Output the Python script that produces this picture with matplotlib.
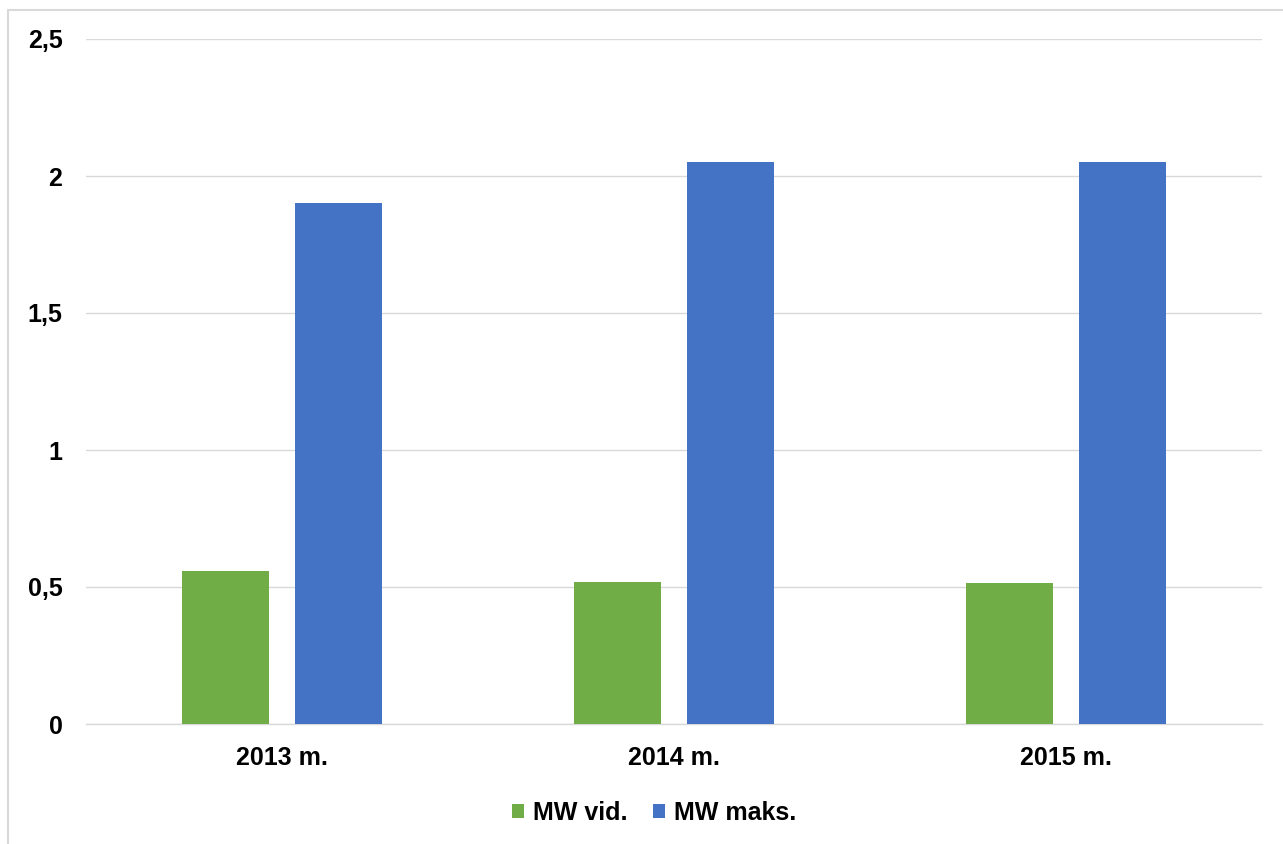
import matplotlib
matplotlib.use("Agg")
import matplotlib.pyplot as plt
import numpy as np
from matplotlib.patches import Rectangle

categories = ["2013 m.", "2014 m.", "2015 m."]
mw_vid = [0.56, 0.52, 0.515]
mw_maks = [1.9, 2.05, 2.05]
series_names = ["MW vid.", "MW maks."]
colors = ["#70AD47", "#4472C4"]
yticks = [0, 0.5, 1, 1.5, 2, 2.5]
ytick_labels = ["0", "0,5", "1", "1,5", "2", "2,5"]

plt.rcParams['font.family'] = ['Liberation Sans', 'DejaVu Sans']

W, H = 1283, 844
fig = plt.figure(figsize=(W/100, H/100), dpi=100)
fig.patches.append(Rectangle((8/W, -0.2), 1.2, 1.2 - 10/H, transform=fig.transFigure,
                             fill=False, edgecolor="#D9D9D9", linewidth=1.5))
ax = fig.add_axes([86/W, 1 - 724/H, (1262-86)/W, (724-39)/H])

x = np.arange(len(categories))
width = 0.222
off = 0.143
ax.bar(x - off, mw_vid, width, color=colors[0], label=series_names[0], zorder=3)
ax.bar(x + off, mw_maks, width, color=colors[1], label=series_names[1], zorder=3)

ax.set_xlim(-0.5, len(categories) - 0.5)
ax.set_ylim(0, 2.5)
ax.set_yticks(yticks)
ax.set_yticklabels(ytick_labels, fontsize=18, fontweight='bold')
ax.set_xticks(x)
ax.set_xticklabels(categories, fontsize=18, fontweight='bold')
ax.tick_params(axis='both', length=0)
ax.tick_params(axis='y', pad=17)
ax.tick_params(axis='x', pad=16)
ax.grid(axis='y', color='#D9D9D9', linewidth=1, zorder=0)
for s in ['top', 'right', 'left']:
    ax.spines[s].set_visible(False)
ax.spines['bottom'].set_color('#D9D9D9')
ax.spines['bottom'].set_linewidth(1)

fig.legend(loc='center', bbox_to_anchor=(654/W, 1 - 813/H), ncol=2, frameon=False,
           prop={'size': 18, 'weight': 'bold'}, handlelength=0.5, handleheight=0.5,
           handletextpad=0.35, columnspacing=1.0)

fig.savefig("out.png", dpi=100, facecolor='white')
